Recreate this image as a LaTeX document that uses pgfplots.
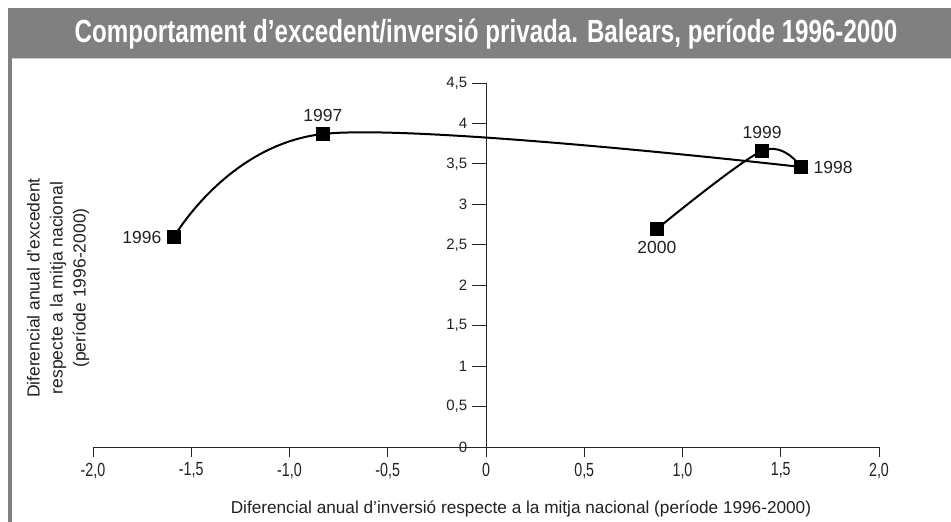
\documentclass[border=0pt]{standalone}
\usepackage{fontspec}
\setmainfont{Liberation Sans}
\newfontfamily\titlefont[FakeStretch=0.755]{Liberation Sans}
\newfontfamily\xtickfont[FakeStretch=0.75]{Liberation Sans}
\usepackage{pgfplots}
\pgfplotsset{compat=1.18}
\usepackage{pgfplotstable}
\definecolor{bargray}{HTML}{808080}
\definecolor{txt}{HTML}{222222}

\pgfplotstableread{
x y
-1.588 2.596
-0.830 3.869
1.603 3.461
}\datatableA
\pgfplotstableread{
x y
1.603 3.461
1.405 3.659
0.870 2.695
}\datatableB

\begin{document}
\begin{tikzpicture}
\useasboundingbox (0,0) rectangle (951pt,522pt);
\fill[white] (0,0) rectangle (951pt,522pt);
\fill[bargray] (8pt,464pt) rectangle (951pt,514pt);
\fill[bargray] (8pt,0pt) rectangle (12pt,464pt);
\fill[black!20] (12pt,462.5pt) rectangle (951pt,464pt);
\node[anchor=base, text=white, font={\titlefont\fontsize{32}{34}\selectfont\bfseries}] at (486pt,479pt)
  {Comportament d’excedent/inversió privada. Balears, període 1996-2000};
\begin{axis}[
  at={(93pt,75pt)}, anchor=south west,
  scale only axis, x=196.5pt, y=80.9pt,
  xmin=-2, xmax=2, ymin=0, ymax=4.5,
  axis x line=bottom, axis y line=center,
  axis line style={-, black!85, line width=0.8pt},
  every tick/.style={black!85, line width=0.8pt},
  tick align=outside,
  xtick={-2,-1.5,-1,-0.5,0,0.5,1,1.5,2},
  xticklabels={-2{,}0,-1{,}5,-1{,}0,-0{,}5,0,0{,}5,1{,}0,1{,}5,2{,}0},
  ytick={0,0.5,1,1.5,2,2.5,3,3.5,4,4.5},
  yticklabels={0,0{,}5,1,1{,}5,2,2{,}5,3,3{,}5,4,4{,}5},
  x tick style={/pgfplots/major tick length=10pt},
  y tick style={/pgfplots/major tick length=14pt},
  hide obscured x ticks=false, hide obscured y ticks=false,
  xticklabel style={font=\xtickfont\fontsize{19}{21}\selectfont, text=txt, yshift=-8pt},
  yticklabel style={font=\fontsize{15}{17}\selectfont, text=txt, xshift=-11pt},
  xlabel={Diferencial anual d’inversió respecte a la mitja nacional (període 1996-2000)},
  ylabel={Diferencial anual d’excedent\\respecte a la mitja nacional\\(període 1996-2000)},
  xlabel style={at={(axis cs:0.178,-0.828)}, anchor=base, font=\fontsize{17.2}{20}\selectfont, text=txt},
  ylabel style={at={(axis cs:-2.178,1.965)}, anchor=center, rotate=90, align=center, font=\fontsize{17.5}{23}\selectfont, text=txt},
  clip=false,
  yearpt/.style={only marks, mark=square*, mark size=6.5pt,
    mark options={solid, fill=black, draw=black},
    nodes near coords, point meta=explicit symbolic,
    nodes near coords style={anchor=#1, inner xsep=12.5pt, inner ysep=12pt,
      font=\fontsize{17.5}{20}\selectfont, text=txt}},
]
\addplot[black, line width=2pt, smooth, tension=0.55, no marks]
  table[x=x, y=y] {\datatableA};
\addplot[black, line width=2pt, smooth, tension=0.55, no marks]
  table[x=x, y=y] {\datatableB};
\addplot[yearpt=east] coordinates {(-1.588,2.596) [1996]};
\addplot[yearpt=south] coordinates {(-0.830,3.869) [1997] (1.405,3.659) [1999]};
\addplot[yearpt=west] coordinates {(1.603,3.461) [1998]};
\addplot[yearpt=north] coordinates {(0.870,2.695) [2000]};
\end{axis}
\end{tikzpicture}
\end{document}
